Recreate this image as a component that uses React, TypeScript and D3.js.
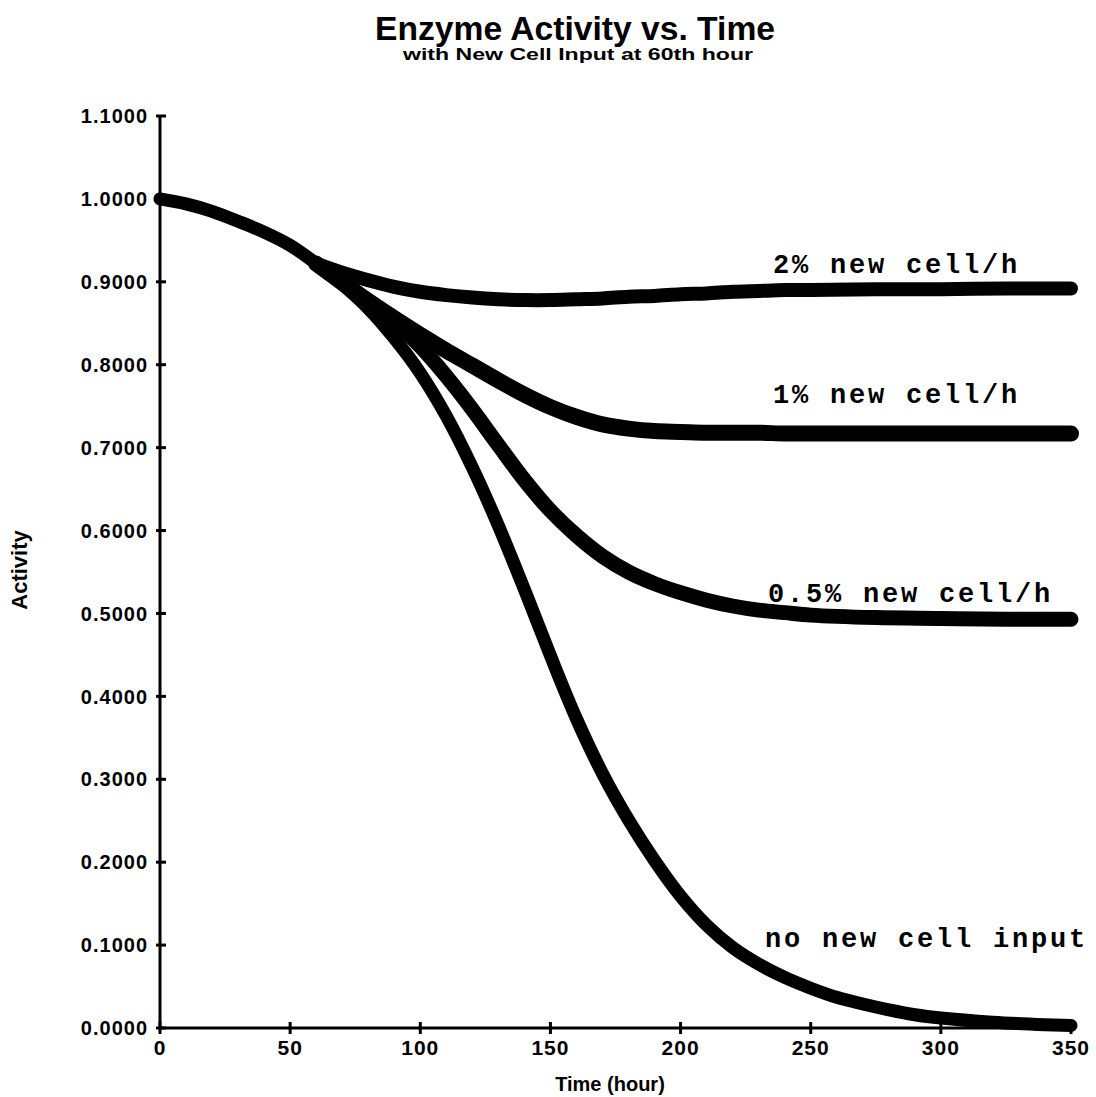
import React from "react";
import * as d3 from "d3";

// ---- Data ----
const noInputHours = [0, 10, 20, 30, 40, 50, 60, 70, 80, 90, 100, 110, 120, 130, 140, 150, 160, 170, 180, 190, 200, 210, 220, 230, 240, 250, 260, 270, 280, 290, 300, 320, 340, 350];
const noInputValues = [1.0, 0.994, 0.985, 0.973, 0.96, 0.944, 0.922, 0.897, 0.868, 0.832, 0.79, 0.738, 0.676, 0.606, 0.529, 0.449, 0.373, 0.307, 0.251, 0.202, 0.159, 0.124, 0.097, 0.077, 0.061, 0.048, 0.037, 0.029, 0.022, 0.016, 0.012, 0.007, 0.004, 0.003];

const branchHours = [60, 70, 80, 90, 100, 110, 120, 130, 140, 150, 160, 170, 180, 190, 200, 210, 220, 230, 240, 250, 275, 300, 325, 350];
const twoPctValues = [0.922, 0.911, 0.902, 0.894, 0.888, 0.884, 0.881, 0.879, 0.878, 0.878, 0.879, 0.88, 0.882, 0.883, 0.885, 0.886, 0.888, 0.889, 0.89, 0.89, 0.891, 0.891, 0.892, 0.892];
const onePctValues = [0.922, 0.899, 0.877, 0.856, 0.836, 0.817, 0.799, 0.781, 0.764, 0.749, 0.737, 0.728, 0.723, 0.72, 0.719, 0.718, 0.718, 0.718, 0.717, 0.717, 0.717, 0.717, 0.717, 0.717];
const halfPctValues = [0.922, 0.9, 0.877, 0.853, 0.822, 0.786, 0.746, 0.703, 0.661, 0.624, 0.594, 0.569, 0.55, 0.536, 0.525, 0.516, 0.509, 0.504, 0.501, 0.498, 0.495, 0.494, 0.493, 0.493];

const seriesNames = ["no new cell input", "2% new cell/h", "1% new cell/h", "0.5% new cell/h"];
const labelHours = [232.4, 235.5, 235.5, 233.6];
const labelValues = [0.098, 0.911, 0.754, 0.514];

const xTicks = [0, 50, 100, 150, 200, 250, 300, 350];
const yTicks = [0, 0.1, 0.2, 0.3, 0.4, 0.5, 0.6, 0.7, 0.8, 0.9, 1.0, 1.1];

const title = "Enzyme Activity vs. Time";
const subtitle = "with New Cell Input at 60th hour";
const xTitle = "Time (hour)";
const yTitle = "Activity";

export default function App() {
  const W = 1096;
  const H = 1097;
  const x = d3.scaleLinear().domain([0, 350]).range([160, 1071]);
  const y = d3.scaleLinear().domain([0, 1.1]).range([1028, 116]);

  const line = d3
    .line<[number, number]>()
    .x((d) => x(d[0]))
    .y((d) => y(d[1]))
    .curve(d3.curveCatmullRom.alpha(0.5));

  const series = [
    { hours: noInputHours, values: noInputValues, width: 13 },
    { hours: branchHours, values: twoPctValues, width: 14 },
    { hours: branchHours, values: onePctValues, width: 16 },
    { hours: branchHours, values: halfPctValues, width: 15 },
  ];

  const sans = "'Liberation Sans', Arial, Helvetica, sans-serif";
  const mono = "'Liberation Mono', 'Courier New', monospace";

  return (
    <svg
      width={W}
      height={H}
      viewBox={`0 0 ${W} ${H}`}
      style={{ position: "absolute", left: 0, top: 0, background: "#fff" }}
    >
      <rect x={0} y={0} width={W} height={H} fill="#fff" />
      {/* Titles */}
      <text x={575} y={40} textAnchor="middle" fontFamily={sans} fontWeight="bold" fontSize={34} textLength={400} lengthAdjust="spacingAndGlyphs">
        {title}
      </text>
      <text x={578} y={60} textAnchor="middle" fontFamily={sans} fontWeight="bold" fontSize={17} textLength={350} lengthAdjust="spacingAndGlyphs">
        {subtitle}
      </text>

      {/* Axes */}
      <line x1={x(0)} x2={x(350)} y1={y(0)} y2={y(0)} stroke="#000" strokeWidth={3} />
      <line x1={x(0)} x2={x(0)} y1={y(0)} y2={y(1.1)} stroke="#000" strokeWidth={3} />
      {xTicks.map((t) => (
        <g key={"xt" + t}>
          <line x1={x(t)} x2={x(t)} y1={y(0) - 6} y2={y(0) + 6} stroke="#000" strokeWidth={3} />
          <text x={x(t)} y={1055} textAnchor="middle" fontFamily={sans} fontWeight="bold" fontSize={21} letterSpacing={1}>
            {t}
          </text>
        </g>
      ))}
      {yTicks.map((v) => (
        <g key={"yt" + v}>
          <line x1={x(0) - 4} x2={x(0) + 6} y1={y(v)} y2={y(v)} stroke="#000" strokeWidth={3} />
          <text x={148} y={y(v)} dy="0.36em" textAnchor="end" fontFamily={sans} fontWeight="bold" fontSize={20} letterSpacing={1}>
            {d3.format(".4f")(v)}
          </text>
        </g>
      ))}
      <text x={610} y={1091} textAnchor="middle" fontFamily={sans} fontWeight="bold" fontSize={20}>
        {xTitle}
      </text>
      <text
        transform={`translate(27,570) rotate(-90)`}
        textAnchor="middle"
        fontFamily={sans}
        fontWeight="bold"
        fontSize={22}
      >
        {yTitle}
      </text>

      {/* Curves */}
      {series.map((s, i) => (
        <path
          key={"s" + i}
          d={line(s.hours.map((h, j) => [h, s.values[j]] as [number, number])) || ""}
          fill="none"
          stroke="#000"
          strokeWidth={s.width}
          strokeLinecap="round"
          strokeLinejoin="round"
        />
      ))}

      {/* Curve labels */}
      {seriesNames.map((name, i) => (
        <text
          key={"lab" + i}
          x={x(labelHours[i])}
          y={y(labelValues[i])}
          fontFamily={mono}
          fontWeight="bold"
          fontSize={27}
          letterSpacing={2.8}
        >
          {name}
        </text>
      ))}
    </svg>
  );
}
